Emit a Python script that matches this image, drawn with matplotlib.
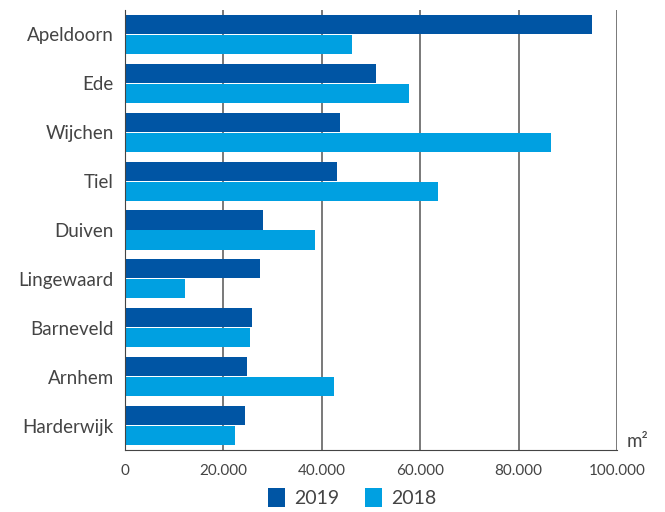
import numpy as np
import matplotlib
matplotlib.use('Agg')
import matplotlib.pyplot as plt

plt.rcParams['font.family'] = ['Lato', 'DejaVu Sans']

gemeenten = ['Apeldoorn', 'Ede', 'Wijchen', 'Tiel', 'Duiven', 'Lingewaard',
             'Barneveld', 'Arnhem', 'Harderwijk']
m2_2019 = [94900, 51000, 43700, 43100, 28000, 27400, 25800, 24800, 24400]
m2_2018 = [46100, 57700, 86600, 63600, 38600, 12200, 25400, 42500, 22400]
ticks = [0, 20000, 40000, 60000, 80000, 100000]
tick_labels = ['0', '20.000', '40.000', '60.000', '80.000', '100.000']

donker = '#0055A4'
licht = '#00A0E1'
grijs = '#444444'

fig = plt.figure(figsize=(6.65, 5.12), dpi=100)
ax = fig.add_axes([125 / 665, 62 / 512, 492 / 665, 440 / 512])

y = np.arange(len(gemeenten))
h = 0.39
ax.barh(y - 0.205, m2_2019, height=h, color=donker, label='2019', zorder=3)
ax.barh(y + 0.205, m2_2018, height=h, color=licht, label='2018', zorder=3)

ax.set_ylim(len(gemeenten) - 0.5, -0.5)
ax.set_xlim(0, 100000)
ax.set_yticks(y)
ax.set_yticklabels(gemeenten, fontsize=13.5, color=grijs)
ax.set_xticks(ticks)
ax.set_xticklabels(tick_labels, fontsize=11, color=grijs)
ax.tick_params(axis='y', length=0, pad=8)
ax.tick_params(axis='x', length=0, pad=10)

for t in ticks[1:]:
    ax.axvline(t, color='#555555', lw=1.1, zorder=2)

for s in ['top', 'right']:
    ax.spines[s].set_visible(False)
ax.spines['left'].set_color(grijs)
ax.spines['bottom'].set_color(grijs)
ax.spines['left'].set_zorder(4)

ax.text(1.02, 0.0, 'm²', transform=ax.transAxes, fontsize=13.5, color=grijs,
        ha='left', va='bottom')

fig.legend(loc='lower center', bbox_to_anchor=(0.53, -0.025), ncol=2, frameon=False,
           fontsize=14, handlelength=0.85, handleheight=1.1, handletextpad=0.5,
           columnspacing=1.3, labelcolor=grijs)

fig.savefig('out.png', dpi=100)
